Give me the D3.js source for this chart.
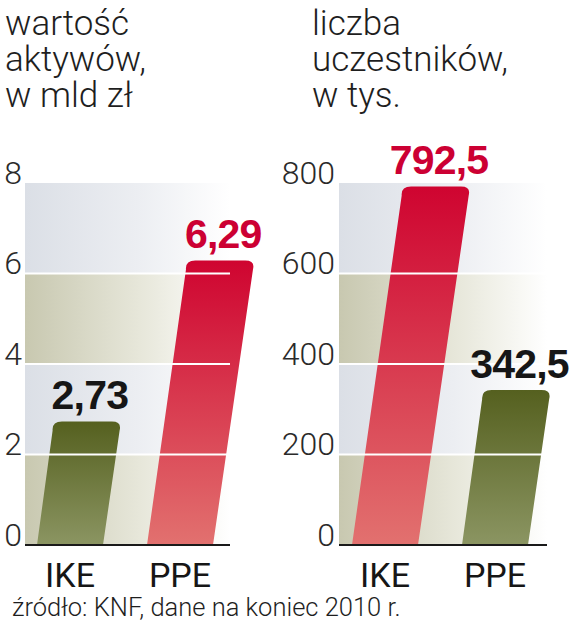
<!DOCTYPE html>
<html><head><meta charset="utf-8">
<script src="https://cdn.jsdelivr.net/npm/d3@7"></script>
<style>
html,body{margin:0;padding:0;background:#fff;}
svg{display:block;}
</style></head>
<body>
<script>
// ---- data ----
const categories = ["IKE", "PPE"];
const assetsValues = [2.73, 6.29];            // wartość aktywów, mld zł
const assetsLabels = ["2,73", "6,29"];
const assetsTicks = [0, 2, 4, 6, 8];
const participantsValues = [792.5, 342.5];    // liczba uczestników, tys.
const participantsLabels = ["792,5", "342,5"];
const participantsTicks = [0, 200, 400, 600, 800];
const assetsTitle = ["wartość", "aktywów,", "w mld zł"];
const participantsTitle = ["liczba", "uczestników,", "w tys."];
const sourceNote = "źródło: KNF, dane na koniec 2010 r.";

const W = 572, H = 640;
const svg = d3.select("body").append("svg").attr("width", W).attr("height", H);
const defs = svg.append("defs");

function lin(id, stops, x2, y2) {
  const g = defs.append("linearGradient").attr("id", id)
    .attr("x1", 0).attr("y1", 0).attr("x2", x2).attr("y2", y2);
  stops.forEach(s => g.append("stop").attr("offset", s[0]).attr("stop-color", s[1]));
}
lin("bandBlue", [[0, "#dbdfe6"], [0.55, "#eceef2"], [1, "#ffffff"]], 1, 0);
lin("bandBeige", [[0, "#c8c8b0"], [0.6, "#e9e9dd"], [1, "#ffffff"]], 1, 0);
lin("barRed", [[0, "#cf0430"], [1, "#e2716f"]], 0, 1);
lin("barOlive", [[0, "#55601f"], [1, "#8b9562"]], 0, 1);

const yTop = 183, yBase = 545;
const slant = 0.145;

function barPath(x0, w, y0, yt, r) {
  const s = (y0 - yt) * slant;
  const p = d3.path();
  p.moveTo(x0, y0);
  p.lineTo(x0 + w, y0);
  p.lineTo(x0 + w + s - r * slant, yt + r);
  p.quadraticCurveTo(x0 + w + s + 1, yt, x0 + w + s - r, yt);
  p.lineTo(x0 + s + r - 2, yt);
  p.quadraticCurveTo(x0 + s - 3, yt, x0 + s - r * slant - 1, yt + r);
  p.closePath();
  return p.toString();
}

function drawChart(cfg) {
  const g = svg.append("g");
  const y = d3.scaleLinear().domain([0, cfg.ticks[cfg.ticks.length - 1]]).range([yBase, yTop]);
  const x = d3.scaleBand().domain(categories).range(cfg.barRange).paddingInner(0.4).paddingOuter(0);

  // title (one text per line)
  g.selectAll("text.title").data(cfg.title).join("text").attr("class", "title")
    .attr("x", cfg.titleX).attr("y", (d, i) => 35 + i * 36)
    .attr("font-family", "Roboto, 'Open Sans', sans-serif").attr("font-weight", 300)
    .attr("font-size", 35).attr("fill", "#1e1e1e").text(d => d);

  // bands
  const bands = d3.pairs(cfg.ticks);
  g.selectAll("rect.band").data(bands).join("rect").attr("class", "band")
    .attr("x", cfg.plot[0]).attr("width", cfg.plot[1] - cfg.plot[0])
    .attr("y", d => y(d[1])).attr("height", d => y(d[0]) - y(d[1]))
    .attr("fill", (d, i) => i % 2 === 0 ? "url(#bandBeige)" : "url(#bandBlue)");

  // bars
  g.selectAll("path.bar").data(cfg.values).join("path").attr("class", "bar")
    .attr("d", (v, i) => barPath(x(categories[i]), x.bandwidth(), yBase, y(v), 9))
    .attr("fill", (v, i) => cfg.colors[i] === "red" ? "url(#barRed)" : "url(#barOlive)");

  // gridlines
  g.selectAll("line.grid").data(cfg.ticks.slice(1, -1)).join("line").attr("class", "grid")
    .attr("x1", cfg.plot[0]).attr("x2", cfg.plot[1])
    .attr("y1", d => y(d)).attr("y2", d => y(d))
    .attr("stroke", "#fff").attr("stroke-width", 2);

  // baseline
  g.append("line").attr("x1", cfg.plot[0]).attr("x2", cfg.plot[1])
    .attr("y1", yBase).attr("y2", yBase).attr("stroke", "#1a1a1a").attr("stroke-width", 2);

  // y tick labels
  const axis = d3.axisLeft(y).tickValues(cfg.ticks).tickSize(0).tickPadding(0);
  const ag = g.append("g").attr("transform", `translate(${cfg.tickX},0)`).call(axis);
  ag.select(".domain").remove();
  ag.selectAll("text").attr("dy", null).attr("y", 0)
    .attr("font-family", "Roboto, 'Open Sans', sans-serif").attr("font-weight", 300)
    .attr("font-size", 32).attr("fill", "#2a2a2a");

  // value labels
  g.selectAll("text.val").data(cfg.values).join("text").attr("class", "val")
    .attr("x", (v, i) => x(categories[i]) + x.bandwidth() / 2 + (yBase - y(v)) * slant + 2)
    .attr("y", v => y(v) - 12)
    .attr("text-anchor", "middle")
    .attr("font-family", "'Liberation Sans', Arial, sans-serif").attr("font-weight", 700)
    .attr("font-size", 41).attr("letter-spacing", -0.8)
    .attr("fill", (v, i) => cfg.colors[i] === "red" ? "#cc0033" : "#161616")
    .text((v, i) => cfg.labels[i]);

  // category labels
  g.selectAll("text.cat").data(categories).join("text").attr("class", "cat")
    .attr("x", d => x(d) + x.bandwidth() / 2)
    .attr("y", 587).attr("text-anchor", "middle")
    .attr("font-family", "Roboto, 'Open Sans', sans-serif").attr("font-weight", 400)
    .attr("font-size", 34).attr("fill", "#161616")
    .text(d => d);
}

drawChart({
  values: assetsValues, labels: assetsLabels, ticks: assetsTicks, title: assetsTitle,
  colors: ["olive", "red"], titleX: 5, plot: [25, 230], barRange: [37, 213], tickX: 22
});
drawChart({
  values: participantsValues, labels: participantsLabels, ticks: participantsTicks, title: participantsTitle,
  colors: ["red", "olive"], titleX: 312, plot: [339, 547], barRange: [352, 528], tickX: 335
});

svg.append("text").attr("x", 12).attr("y", 616)
  .attr("font-family", "Roboto, 'Open Sans', sans-serif").attr("font-weight", 300)
  .attr("font-size", 25.5).attr("fill", "#1e1e1e").text(sourceNote);
</script>
</body></html>
